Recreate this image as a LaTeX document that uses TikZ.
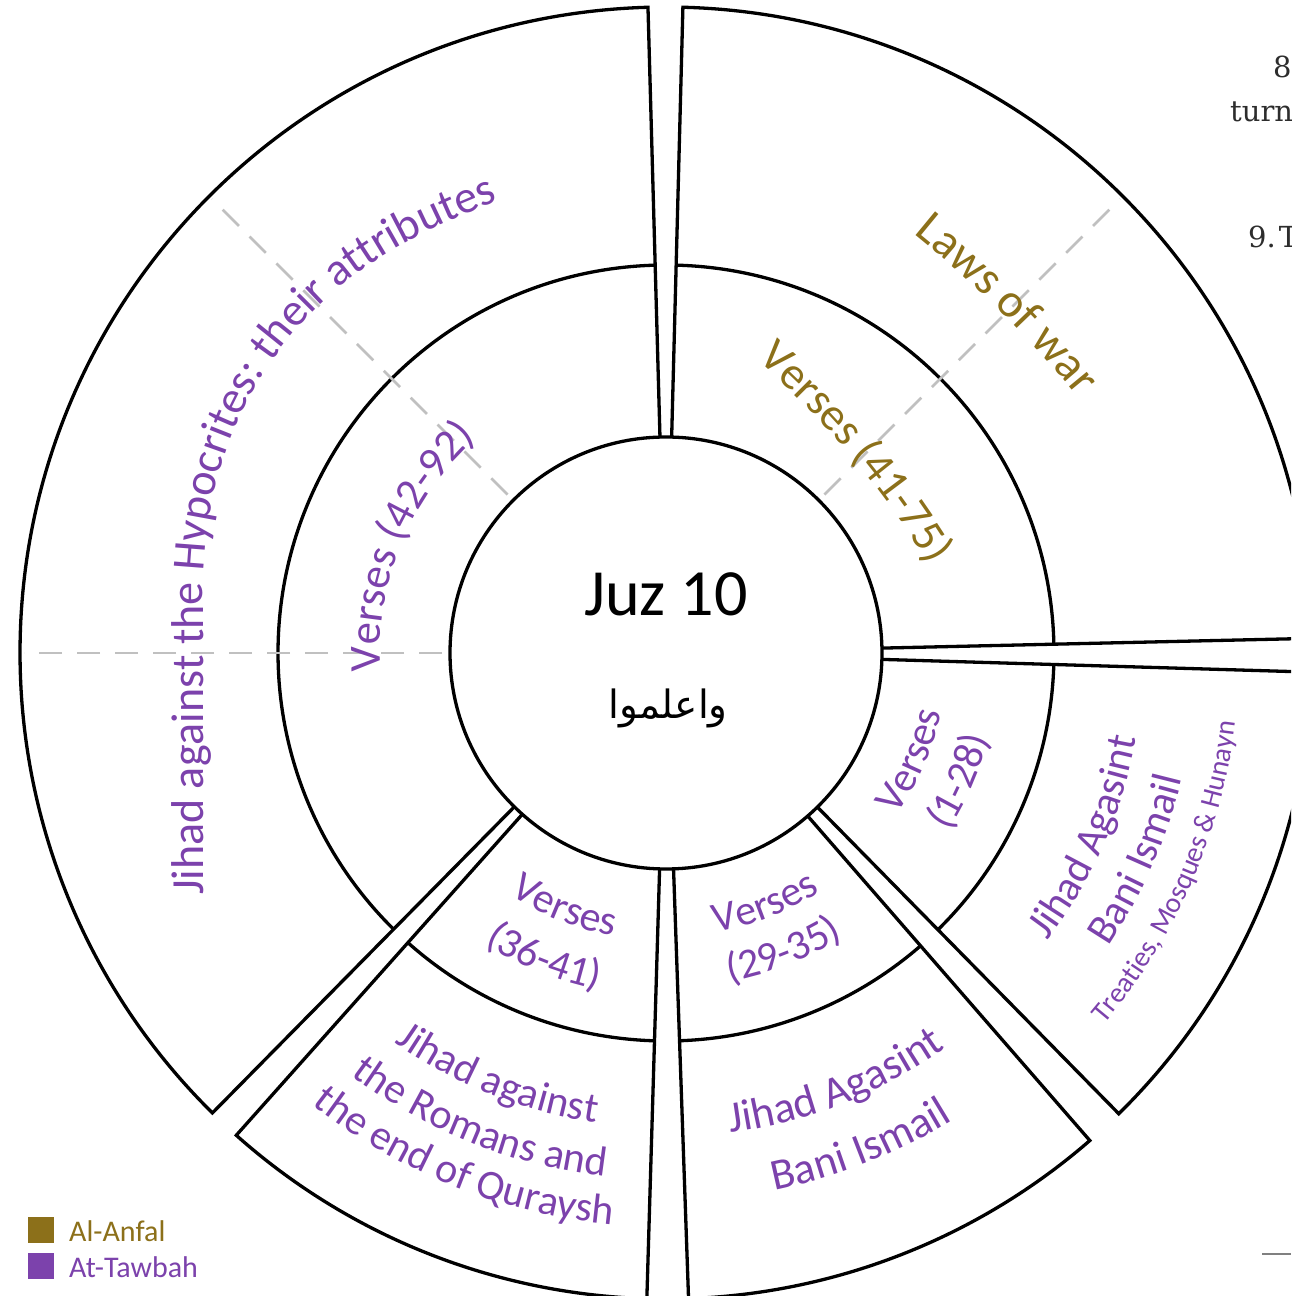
\documentclass[tikz,border=0pt]{standalone}
\usepackage{fontspec}
\setmainfont{Carlito}
\newfontfamily\arabicfont[Script=Arabic]{DejaVu Sans}
\newfontfamily\pagefont{DejaVu Serif}
\TeXXeTstate=1
\usetikzlibrary{decorations.text}
\definecolor{anfal}{RGB}{140,112,26}
\definecolor{tawbah}{RGB}{124,66,172}
\definecolor{dashgray}{RGB}{192,192,192}
\definecolor{pagetext}{RGB}{45,45,45}

\newcommand\drawsector[2]{%
  \draw[secline] (#1:216pt) -- (#1:646pt) arc[start angle=#1, end angle=#2, radius=646pt] -- (#2:216pt);
  \draw[secline] (#1:388pt) arc[start angle=#1, end angle=#2, radius=388pt];
}
% text on an arc round the centre, read clockwise (tops outward)
\newcommand\cwtext[5]{%
  \path[decorate, decoration={text along path, text align=center,
    text={|\fontsize{#3}{#3}\selectfont\color{#4}|#5}}]
    ({#1+70}:#2pt) arc[start angle={#1+70}, end angle={#1-70}, radius=#2pt];
}
% text on an arc round the centre, read counter-clockwise (tops inward)
\newcommand\ccwtext[5]{%
  \path[decorate, decoration={text along path, text align=center,
    text={|\fontsize{#3}{#3}\selectfont\color{#4}|#5}}]
    ({#1-70}:#2pt) arc[start angle={#1-70}, end angle={#1+70}, radius=#2pt];
}
% gently arched text: baseline middle (#1,#2), direction #3, bend radius #4, half span #5 degrees
\newcommand\archtext[8]{%
  \begin{scope}[shift={(#1,#2)}, shift={({#3-90}:#4pt)}]
  \path[decorate, decoration={text along path, text align=center,
    text={|\fontsize{#6}{#6}\selectfont\color{#7}|#8}}]
    ({#3+90+#5}:#4pt) arc[start angle={#3+90+#5}, end angle={#3+90-#5}, radius=#4pt];
  \end{scope}
}

\begin{document}
\begin{tikzpicture}[x=1pt, y=1pt,
  secline/.style={line width=3.3pt, line join=miter, draw=black},
  dashline/.style={line width=2.6pt, draw=dashgray, dash pattern=on 23pt off 15pt},
  legendbox/.style={minimum size=26pt, inner sep=0pt, outer sep=0pt},
  legendtext/.style={anchor=base west, inner sep=0pt, font=\fontsize{30}{30}\selectfont},
  pagetxt/.style={anchor=base west, inner sep=0pt, text=pagetext, font=\pagefont\fontsize{29}{29}\selectfont}]
\useasboundingbox (0,0) rectangle (1291,1296);
\clip (0,0) rectangle (1291,1296);
\fill[white] (0,0) rectangle (1291,1296);

\begin{scope}[shift={(666,643)}]
  % sectors
  \drawsector{1.3}{88.5}
  \drawsector{-45.5}{-1.7}
  \drawsector{-88}{-49}
  \drawsector{228.3}{268.3}
  \drawsector{91.6}{225.4}
  % dashed dividers
  \draw[dashline] (45:224pt) -- (45:642pt);
  \draw[dashline] (135:224pt) -- (135:642pt);
  \draw[dashline] (180:224pt) -- (180:642pt);
  % centre circle
  \draw[secline] (0,0) circle[radius=216pt];
  \node[anchor=base, inner sep=0pt, font=\fontsize{66}{66}\selectfont] (juz) at (0,37) {Juz 10};
  \node[anchor=base, inner sep=0pt, font=\arabicfont\fontsize{39}{39}\selectfont] (wa) at (2,-66) {\beginR واعلموا\endR};

  % At-Tawbah (left)
  \cwtext{157.5}{286}{44.5}{tawbah}{Verses (42-92)}
  % right lower
  \ccwtext{-23.6}{282}{42}{tawbah}{Verses}
  \ccwtext{-23.6}{334}{42}{tawbah}{(1-28)}
  \ccwtext{-23.6}{478}{42}{tawbah}{Jihad Agasint}
  \ccwtext{-23.6}{531}{42}{tawbah}{Bani Ismail}
  \ccwtext{-23.6}{574}{28.5}{tawbah}{Treaties, Mosques {\&} Hunayn}
  % bottom right
  \ccwtext{-68.5}{284}{42}{tawbah}{Verses}
  \ccwtext{-68.5}{335}{42}{tawbah}{(29-35)}
  \ccwtext{-68.5}{484}{44}{tawbah}{Jihad Agasint}
  \ccwtext{-68.5}{548}{44}{tawbah}{Bani Ismail}
  % bottom left
  \ccwtext{-111.7}{288}{42}{tawbah}{Verses}
  \ccwtext{-111.7}{343}{42}{tawbah}{(36-41)}
  \ccwtext{-111.7}{475}{42}{tawbah}{Jihad against}
  \ccwtext{-111.7}{527}{42}{tawbah}{the Romans and}
  \ccwtext{-111.7}{574}{42}{tawbah}{the end of Quraysh}
\end{scope}

% Al-Anfal texts (top right), flatter arches
\archtext{1000}{985}{-45}{1100}{20}{48}{anfal}{Laws of war}
\archtext{851}{840}{-50}{900}{24}{46}{anfal}{Verses (41-75)}

% long curved title of the left sector
\path[decorate, decoration={text along path, text align=left,
    text={|\fontsize{46}{46}\selectfont\color{tawbah}|Jihad against the Hypocrites: their attributes}}]
  (203,401) -- (203,700) .. controls (203,835) and (255,935) .. (335,1005)
  .. controls (385,1048) and (440,1072) .. (505,1098) -- (620,1148);

% legend
\node[legendbox, fill=anfal] (sqanfal) at (41,66) {};
\node[legendbox, fill=tawbah] (sqtawbah) at (41,29.5) {};
\node[legendtext, text=anfal] (lganfal) at (69,54) {Al-Anfal};
\node[legendtext, text=tawbah] (lgtawbah) at (69,18) {At-Tawbah};

% fragments of the surrounding page
\node[pagetxt] (p8) at (1273,1218) {8};
\node[pagetxt] (pturn) at (1230,1174) {turn};
\node[pagetxt] (p9) at (1248,1048) {9.\hspace{3pt}T};
\coordinate (rulea) at (1262,42);
\coordinate (ruleb) at (1291,42);
\draw[line width=1.6pt, draw=gray] (rulea) -- (ruleb);
\end{tikzpicture}
\end{document}
